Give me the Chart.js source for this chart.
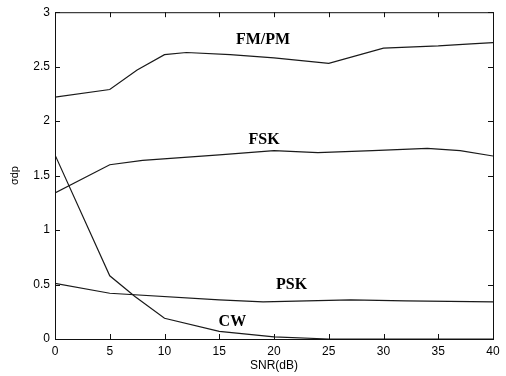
<!DOCTYPE html>
<html>
<head>
<meta charset="utf-8">
<script src="https://cdn.jsdelivr.net/npm/chart.js@4"></script>
<style>
  html, body { margin: 0; padding: 0; background: #fff; }
  #wrap { width: 506px; height: 376px; }
</style>
</head>
<body>
<div id="wrap"><canvas id="chart" width="506" height="376"></canvas></div>
<script>
// values
const fmpmX = [0, 5, 7.5, 10, 12, 16, 20, 25, 30, 35, 38, 40];
const fmpmY = [2.22, 2.29, 2.47, 2.61, 2.63, 2.61, 2.58, 2.53, 2.67, 2.69, 2.71, 2.72];

const fskX = [0, 5, 8, 15, 20, 24, 29, 34, 37, 40];
const fskY = [1.34, 1.60, 1.64, 1.69, 1.73, 1.71, 1.73, 1.75, 1.73, 1.68];

const pskX = [0, 5, 15, 19, 27, 32, 40];
const pskY = [0.51, 0.42, 0.36, 0.34, 0.36, 0.35, 0.34];

const cwX = [0, 5, 7.3, 10, 15, 20, 25, 40];
const cwY = [1.69, 0.58, 0.39, 0.19, 0.07, 0.02, 0.0, 0.0];

const xTicks = [0, 5, 10, 15, 20, 25, 30, 35, 40];
const yTicks = [0, 0.5, 1, 1.5, 2, 2.5, 3];

const curveNames = ['FM/PM', 'FSK', 'PSK', 'CW'];
const nameX = [19.0, 19.1, 21.6, 16.2];
const nameY = [2.75, 1.83, 0.50, 0.16];

function pts(xs, ys) {
  return xs.map((x, i) => ({ x: x, y: ys[i] }));
}

// box around the plot and little ticks pointing inwards, matlab style
const boxPlugin = {
  id: 'box',
  afterDraw(chart) {
    const ctx = chart.ctx;
    const a = chart.chartArea;
    const xs = chart.scales.x, ys = chart.scales.y;
    ctx.save();
    ctx.strokeStyle = '#111';
    ctx.lineWidth = 1;
    ctx.strokeRect(a.left + 0.5, a.top + 0.5, a.right - a.left, a.bottom - a.top);
    ctx.beginPath();
    xTicks.forEach(v => {
      const px = Math.round(xs.getPixelForValue(v)) + 0.5;
      ctx.moveTo(px, a.bottom); ctx.lineTo(px, a.bottom - 5);
      ctx.moveTo(px, a.top); ctx.lineTo(px, a.top + 5);
    });
    yTicks.forEach(v => {
      const py = Math.round(ys.getPixelForValue(v)) + 0.5;
      ctx.moveTo(a.left, py); ctx.lineTo(a.left + 5, py);
      ctx.moveTo(a.right, py); ctx.lineTo(a.right - 5, py);
    });
    ctx.stroke();

    // curve names
    ctx.fillStyle = '#000';
    ctx.font = 'bold 16px "Liberation Serif", "DejaVu Serif", serif';
    ctx.textAlign = 'center';
    ctx.textBaseline = 'middle';
    curveNames.forEach((n, i) => {
      ctx.fillText(n, xs.getPixelForValue(nameX[i]), ys.getPixelForValue(nameY[i]));
    });
    ctx.restore();
  }
};

const lineStyle = {
  borderColor: '#1a1a1a',
  borderWidth: 1.2,
  pointRadius: 0,
  tension: 0,
  fill: false
};

const chartData = {
  datasets: [
    Object.assign({ label: 'FM/PM', data: pts(fmpmX, fmpmY) }, lineStyle),
    Object.assign({ label: 'FSK', data: pts(fskX, fskY) }, lineStyle),
    Object.assign({ label: 'PSK', data: pts(pskX, pskY) }, lineStyle),
    Object.assign({ label: 'CW', data: pts(cwX, cwY) }, lineStyle)
  ]
};

const tickFont = { family: '"Liberation Sans", Arial, sans-serif', size: 12 };

new Chart(document.getElementById('chart'), {
  type: 'line',
  data: chartData,
  plugins: [boxPlugin],
  options: {
    responsive: false,
    animation: false,
    layout: { padding: { left: 0, right: 13, top: 12, bottom: 0 } },
    plugins: { legend: { display: false }, tooltip: { enabled: false } },
    scales: {
      x: {
        type: 'linear',
        min: 0, max: 40,
        afterBuildTicks: s => { s.ticks = xTicks.map(v => ({ value: v })); },
        afterFit: s => { s.height = 37; },
        grid: { display: false, drawTicks: false },
        border: { display: false },
        ticks: { color: '#000', font: tickFont, padding: 5, maxRotation: 0 },
        title: {
          display: true, text: 'SNR(dB)', color: '#000',
          font: { family: '"Liberation Sans", Arial, sans-serif', size: 12 },
          padding: { top: 0, bottom: 3 }
        }
      },
      y: {
        min: 0, max: 3,
        afterBuildTicks: s => { s.ticks = yTicks.map(v => ({ value: v })); },
        afterFit: s => { s.width = 55; },
        grid: { display: false, drawTicks: false },
        border: { display: false },
        ticks: { color: '#000', font: tickFont, padding: 5, callback: v => String(v) },
        title: {
          display: true, text: 'σdp', color: '#000',
          font: { family: '"Liberation Sans", Arial, sans-serif', size: 11 },
          padding: { top: 8, bottom: 0 }
        }
      }
    }
  }
});
</script>
</body>
</html>
